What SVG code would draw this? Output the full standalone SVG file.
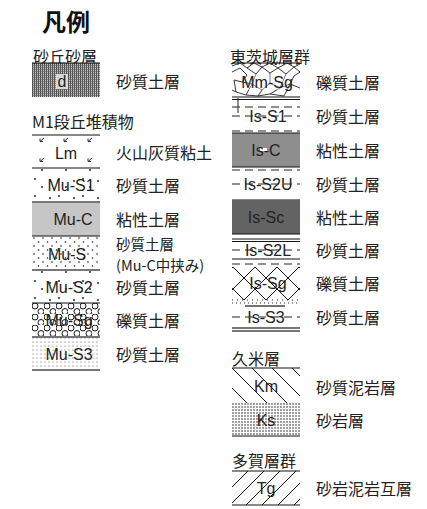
<svg xmlns="http://www.w3.org/2000/svg" width="427" height="509" viewBox="0 0 427 509">
<style>
.t{font-family:"Noto Sans CJK JP","Liberation Sans",sans-serif;font-size:16px;fill:#222;dominant-baseline:central}
.t2{font-size:14.5px}
.b{font-family:"Liberation Sans","Noto Sans CJK JP",sans-serif;font-size:16px;fill:#222;text-anchor:middle;dominant-baseline:central}
.ttl{font-family:"Noto Sans CJK JP",sans-serif;font-size:24px;font-weight:bold;fill:#111}
.k{stroke:#111;stroke-width:1.2;fill:none}
.g{stroke:#777;stroke-width:2;fill:none}
.dash{stroke:#222;stroke-width:1;stroke-dasharray:8 5;fill:none}
</style>
<defs>
<pattern id="pd" width="2" height="2" patternUnits="userSpaceOnUse"><rect width="2" height="2" fill="#c4c4c4"/><rect width="1" height="2" fill="#555"/><rect x="1" y="1" width="1" height="1" fill="#888"/></pattern>
<pattern id="ps1" width="24" height="17" patternUnits="userSpaceOnUse" x="32" y="168"><circle cx="10" cy="2" r="0.9" fill="#111"/><circle cx="3" cy="11" r="0.9" fill="#111"/><circle cx="18" cy="13" r="0.9" fill="#111"/></pattern>
<pattern id="ps" width="9" height="8" patternUnits="userSpaceOnUse" x="32" y="236"><circle cx="2" cy="2" r="0.8" fill="#111"/><circle cx="6.5" cy="6" r="0.8" fill="#111"/></pattern>
<pattern id="ps3" width="4" height="4" patternUnits="userSpaceOnUse" x="32" y="337"><circle cx="1" cy="1" r="0.6" fill="#555"/></pattern>
<pattern id="psg" width="12" height="11" patternUnits="userSpaceOnUse" x="32" y="303"><circle cx="3" cy="3" r="3" fill="none" stroke="#111" stroke-width="1"/><circle cx="9" cy="8.5" r="3" fill="none" stroke="#111" stroke-width="1"/></pattern>
<pattern id="plat" width="22" height="22" patternUnits="userSpaceOnUse" x="233" y="267"><path d="M0,0 L22,22 M22,0 L0,22" stroke="#111" stroke-width="1"/></pattern>
<pattern id="pkm" width="20" height="20" patternUnits="userSpaceOnUse" x="232" y="368"><path d="M-5,-5 L25,25 M-15,5 L5,25 M15,-5 L35,15" stroke="#111" stroke-width="1"/></pattern>
<pattern id="pks" width="3" height="3" patternUnits="userSpaceOnUse" x="232" y="403"><circle cx="1" cy="1" r="0.75" fill="#111"/></pattern>
<pattern id="ptg" width="16" height="16" patternUnits="userSpaceOnUse" x="232" y="471"><path d="M-4,20 L20,-4 M-4,4 L4,-4 M12,20 L20,12" stroke="#111" stroke-width="1"/></pattern>
</defs>

<text class="ttl" x="42" y="31">凡例</text>

<g id="legend-left">
<g id="hdr-sakyu"><text class="t" x="33" y="56">砂丘砂層</text></g>
<g id="node-d">
<rect x="32" y="63" width="68" height="34" fill="url(#pd)"/>
<line class="k" x1="32" y1="63" x2="100" y2="63"/>
<rect x="56" y="74" width="12" height="15" fill="#d8d8d8"/>
<text class="b" x="62" y="81">d</text>
<text class="t" x="116" y="81">砂質土層</text>
</g>
<g id="hdr-m1"><text class="t" x="32" y="121">M1段丘堆積物</text></g>
<g id="node-lm">
<line class="k" x1="32" y1="135" x2="100" y2="135"/>
<line class="k" x1="32" y1="168" x2="100" y2="168"/>
<path d="M44,138 l-4,3.5 M40,138.5 v3 h3 M68,138 l-4,3.5 M64,138.5 v3 h3 M92,138 l-4,3.5 M88,138.5 v3 h3 M44,158 l-4,3.5 M40,158.5 v3 h3 M92,158 l-4,3.5 M88,158.5 v3 h3" stroke="#222" stroke-width="0.9" fill="none"/>
<text class="b" x="66" y="153">Lm</text>
<text class="t" x="116" y="152">火山灰質粘土</text>
</g>
<g id="node-mus1">
<rect x="32" y="168" width="68" height="34" fill="url(#ps1)"/>
<line class="g" x1="32" y1="202" x2="100" y2="202"/>
<text class="b" x="71" y="185">Mu-S1</text>
<text class="t" x="116" y="185">砂質土層</text>
</g>
<g id="node-muc">
<rect x="32" y="203" width="68" height="33" fill="#c6c6c6"/>
<line class="k" x1="32" y1="236" x2="100" y2="236"/>
<text class="b" x="73" y="219">Mu-C</text>
<text class="t" x="116" y="219">粘性土層</text>
</g>
<g id="node-mus">
<rect x="32" y="236" width="68" height="34" fill="url(#ps)"/>
<line class="g" x1="32" y1="270" x2="100" y2="270"/>
<text class="b" x="67" y="254">Mu-S</text>
<text class="t t2" x="116" y="243">砂質土層</text>
<text class="t t2" x="116" y="264">(Mu-C中挟み)</text>
</g>
<g id="node-mus2">
<rect x="32" y="270" width="68" height="33" fill="url(#ps1)"/>
<line class="k" x1="32" y1="303" x2="100" y2="303"/>
<text class="b" x="69" y="287">Mu-S2</text>
<text class="t" x="116" y="287">砂質土層</text>
</g>
<g id="node-musg">
<rect x="32" y="303" width="68" height="34" fill="url(#psg)"/>
<line class="g" x1="32" y1="337" x2="100" y2="337"/>
<text class="b" x="69" y="320">Mu-Sg</text>
<text class="t" x="116" y="320">礫質土層</text>
</g>
<g id="node-mus3">
<rect x="32" y="337" width="68" height="33" fill="url(#ps3)"/>
<line class="g" x1="32" y1="370" x2="100" y2="370"/>
<text class="b" x="69" y="354">Mu-S3</text>
<text class="t" x="116" y="354">砂質土層</text>
</g>
</g>

<g id="legend-right">
<g id="hdr-higashi"><text class="t" x="230" y="56">東茨城層群</text></g>
<g id="node-mmsg">
<line class="k" x1="232" y1="63" x2="300" y2="63"/>
<path d="M232,66 L240,63 L247,68 L254,63 L262,67 L270,63 L278,68 L287,63 L294,67 L300,64 M232,72 L240,68 L247,75 L242,82 L234,80 M247,68 L256,74 L262,67 L270,73 L278,68 L286,74 L294,67 L300,72 M256,74 L252,84 L242,82 M252,84 L262,90 L270,83 L270,73 M270,83 L280,88 L286,74 M280,88 L290,84 L300,88 M290,84 L294,76 L300,72 M234,80 L236,92 L246,95 L252,84 M262,90 L258,96 M246,95 L258,96 L270,94 L280,88 M270,94 L284,96 L290,84 M232,90 L236,92" stroke="#222" stroke-width="0.9" fill="none"/>
<line class="k" x1="232" y1="97" x2="300" y2="97"/>
<line class="k" x1="232" y1="99.5" x2="300" y2="99.5"/>
<rect x="248" y="74" width="40" height="16" fill="#fff" opacity="0.35"/>
<text class="b" x="267" y="82">Mm-Sg</text>
<text class="t" x="316" y="82">礫質土層</text>
</g>
<g id="node-iss1">
<line x1="238" y1="98" x2="238" y2="113" stroke="#222" stroke-width="1"/>
<line class="dash" x1="232" y1="107" x2="300" y2="107"/>
<line class="dash" x1="232" y1="116" x2="300" y2="116"/>
<line class="dash" x1="232" y1="131" x2="300" y2="131"/>
<text class="b" x="268" y="116">Is-S1</text>
<text class="t" x="316" y="116">砂質土層</text>
</g>
<g id="node-isc">
<rect x="232" y="133" width="68" height="34" fill="#8e8e8e"/>
<line class="k" x1="232" y1="133" x2="300" y2="133"/>
<line class="k" x1="232" y1="167" x2="300" y2="167"/>
<rect x="260" y="148" width="7" height="3" fill="#fff"/>
<text class="b" x="266" y="150">Is-C</text>
<text class="t" x="316" y="150">粘性土層</text>
</g>
<g id="node-iss2u">
<line class="dash" x1="232" y1="170" x2="300" y2="170"/>
<line class="dash" x1="232" y1="184" x2="300" y2="184"/>
<line class="k" x1="232" y1="200" x2="300" y2="200"/>
<text class="b" x="268" y="184">Is-S2U</text>
<text class="t" x="316" y="184">砂質土層</text>
</g>
<g id="node-issc">
<rect x="232" y="200" width="68" height="34" fill="#636363"/>
<line class="k" x1="232" y1="234" x2="300" y2="234"/>
<text class="b" x="266" y="217">Is-Sc</text>
<text class="t" x="316" y="217">粘性土層</text>
</g>
<g id="node-iss2l">
<line class="k" x1="232" y1="239" x2="300" y2="239"/>
<line class="k" x1="232" y1="241.5" x2="300" y2="241.5"/>
<line class="dash" x1="232" y1="250" x2="300" y2="250"/>
<line class="k" x1="232" y1="259" x2="300" y2="259"/>
<line class="dash" x1="232" y1="264" x2="300" y2="264"/>
<text class="b" x="268" y="250">Is-S2L</text>
<text class="t" x="316" y="250">砂質土層</text>
</g>
<g id="node-issg">
<rect x="232" y="267" width="68" height="33" fill="url(#plat)"/>
<line x1="232" y1="300" x2="300" y2="300" stroke="#222" stroke-width="1" stroke-dasharray="1 4"/>
<text class="b" x="268" y="283">Is-Sg</text>
<text class="t" x="316" y="283">礫質土層</text>
</g>
<g id="node-iss3">
<line x1="232" y1="303" x2="300" y2="303" stroke="#222" stroke-width="1" stroke-dasharray="1 3"/>
<line x1="245" y1="306" x2="285" y2="306" stroke="#444" stroke-width="1.4"/>
<line class="dash" x1="232" y1="317" x2="300" y2="317"/>
<line class="g" x1="232" y1="328" x2="300" y2="328" stroke-width="1.4"/>
<line class="g" x1="232" y1="331" x2="300" y2="331" stroke-width="1.4"/>
<text class="b" x="266" y="317">Is-S3</text>
<text class="t" x="316" y="317">砂質土層</text>
</g>
<g id="hdr-kume"><text class="t" x="232" y="358">久米層</text></g>
<g id="node-km">
<rect x="232" y="368" width="68" height="35" fill="url(#pkm)"/>
<line class="k" x1="232" y1="368" x2="300" y2="368"/>
<text class="b" x="266" y="386">Km</text>
<text class="t" x="316" y="387">砂質泥岩層</text>
</g>
<g id="node-ks">
<rect x="232" y="403" width="68" height="33" fill="url(#pks)"/>
<line class="k" x1="232" y1="436" x2="300" y2="436"/>
<text class="b" x="266" y="420">Ks</text>
<text class="t" x="316" y="420">砂岩層</text>
</g>
<g id="hdr-taga"><text class="t" x="232" y="460">多賀層群</text></g>
<g id="node-tg">
<rect x="232" y="471" width="68" height="34" fill="url(#ptg)"/>
<line class="k" x1="232" y1="471" x2="300" y2="471"/>
<line class="k" x1="232" y1="505" x2="300" y2="505"/>
<text class="b" x="266" y="488">Tg</text>
<text class="t" x="316" y="488">砂岩泥岩互層</text>
</g>
</g>
<g id="connectors"/>
</svg>
